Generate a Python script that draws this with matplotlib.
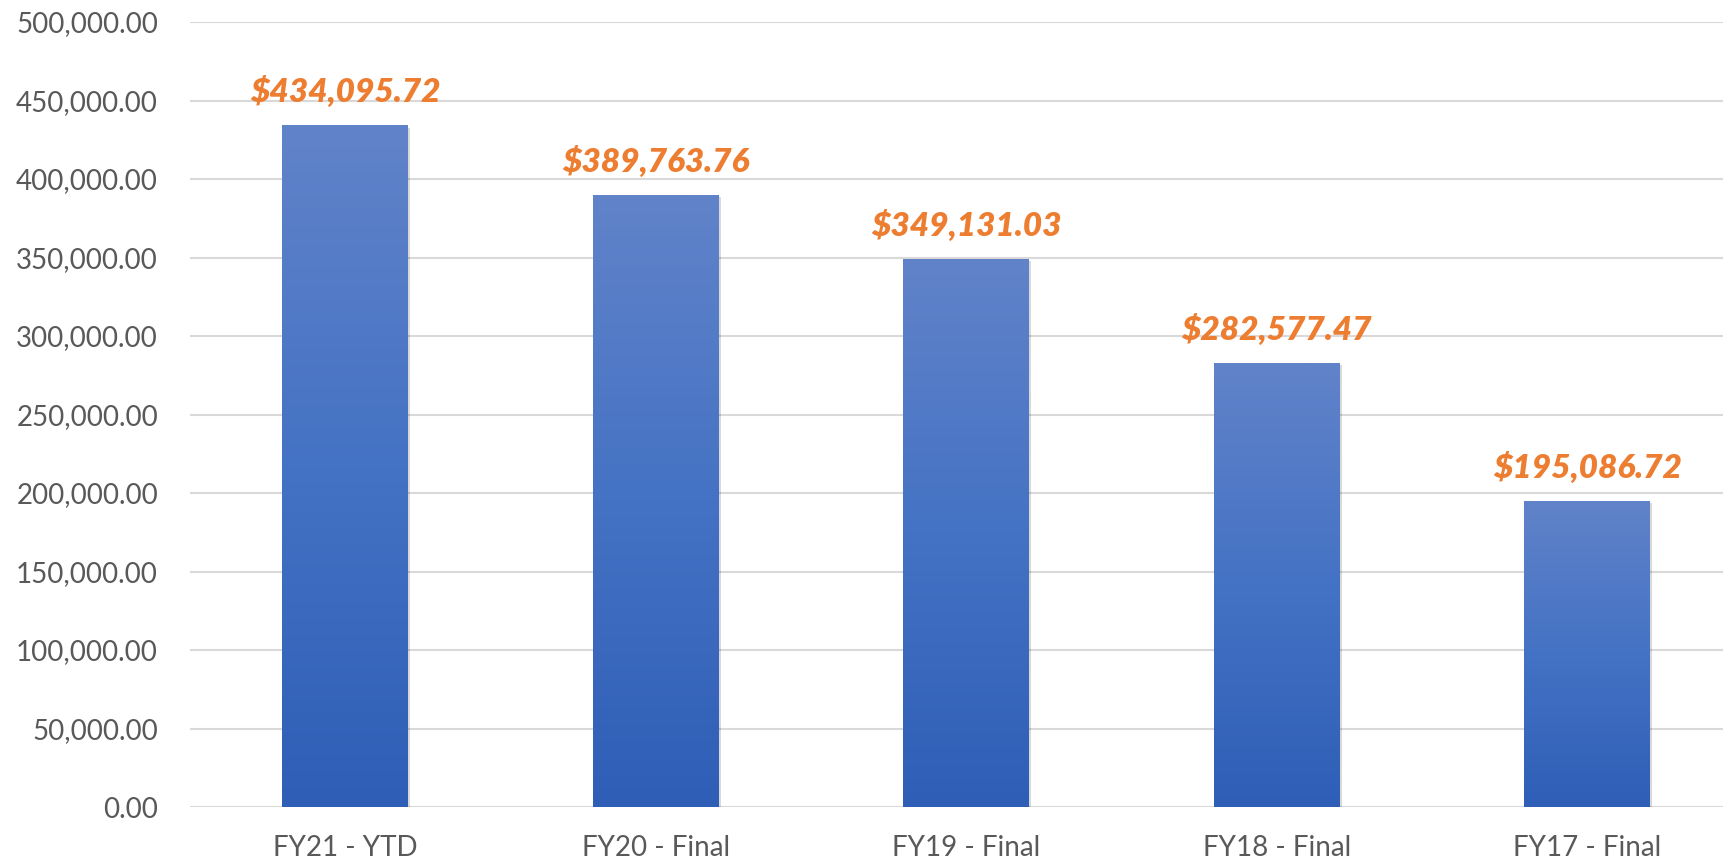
import matplotlib.pyplot as plt
import matplotlib.patheffects as pe
import numpy as np
from matplotlib.colors import LinearSegmentedColormap
from matplotlib.ticker import FuncFormatter

categories = ['FY21 - YTD', 'FY20 - Final', 'FY19 - Final', 'FY18 - Final', 'FY17 - Final']
values = [434095.72, 389763.76, 349131.03, 282577.47, 195086.72]
y_ticks = np.arange(0, 500001, 50000)


def main():
    plt.rcParams['font.family'] = ['Lato', 'DejaVu Sans']
    fig = plt.figure(figsize=(17.24, 8.61), dpi=100)
    ax = fig.add_axes([190 / 1724, 1 - 807 / 861, 1 - 190 / 1724, (807 - 22) / 861])

    x = np.arange(len(categories))
    bars = ax.bar(x, values, width=0.405, color='#4472C4', zorder=2,
                  path_effects=[pe.SimplePatchShadow(offset=(1.5, -1.5), shadow_rgbFace='#000000', alpha=0.15),
                                pe.Normal()])

    # gradient fill like the Excel bars (lighter at the top)
    cmap = LinearSegmentedColormap.from_list('bar', ['#2E5EB6', '#4472C4', '#6183C9'])
    grad = np.linspace(0, 1, 256).reshape(-1, 1)
    for b in bars:
        x0, y0 = b.get_x(), b.get_y()
        im = ax.imshow(grad, cmap=cmap, origin='lower', aspect='auto', zorder=3,
                       extent=[x0, x0 + b.get_width(), y0, y0 + b.get_height()])
        im.set_clip_path(b)

    for xi, v in zip(x, values):
        ax.annotate('${:,.2f}'.format(v), (xi, v), xytext=(0, 13), textcoords='offset points',
                    ha='center', va='bottom', color='#ED7D31', fontsize=24,
                    fontweight='heavy', fontstyle='italic', zorder=4)

    ax.set_xlim(-0.5, 4.44)
    ax.set_ylim(0, 500000)
    ax.set_yticks(y_ticks)
    ax.yaxis.set_major_formatter(FuncFormatter(lambda v, p: '{:,.2f}'.format(v)))
    ax.set_xticks(x, categories)
    ax.grid(axis='y', color='#D9D9D9', linewidth=1.5, zorder=0)
    ax.set_axisbelow(True)
    for s in ax.spines.values():
        s.set_visible(False)
    ax.tick_params(axis='both', length=0, labelsize=20, labelcolor='#595959')
    ax.tick_params(axis='y', pad=23)
    ax.tick_params(axis='x', pad=20)

    fig.savefig('out.png', dpi=100)


if __name__ == "__main__":
    main()
